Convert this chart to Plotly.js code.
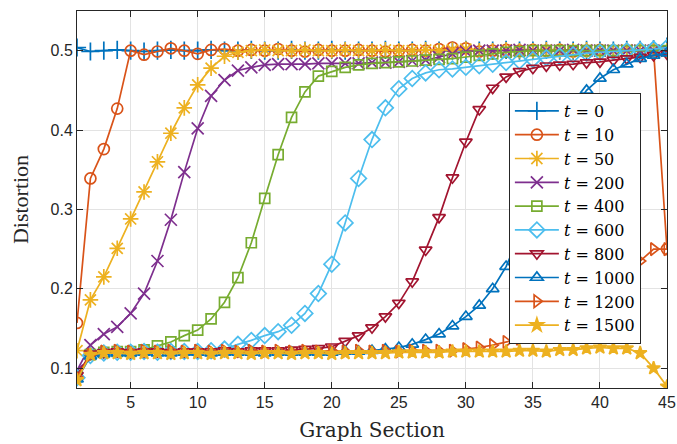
<!DOCTYPE html>
<html>
<head>
<meta charset="utf-8">
<script src="https://cdn.plot.ly/plotly-3.0.1.min.js"></script>
<style>html,body{margin:0;padding:0;background:#fff;}#chart{width:677px;height:444px;}</style>
</head>
<body>
<div id="chart"></div>
<script>
// Graph sections 1..45
const sections = [1,2,3,4,5,6,7,8,9,10,11,12,13,14,15,16,17,18,19,20,21,22,23,24,25,26,27,28,29,30,31,32,33,34,35,36,37,38,39,40,41,42,43,44,45];

const labels = ["t = 0","t = 10","t = 50","t = 200","t = 400","t = 600","t = 800","t = 1000","t = 1200","t = 1500"];

const t0 = [0.504,0.499,0.500,0.501,0.500,0.499,0.500,0.501,0.500,0.500,0.501,0.500,0.500,0.501,0.500,0.500,0.501,0.500,0.500,0.501,0.500,0.500,0.500,0.501,0.500,0.500,0.501,0.500,0.500,0.501,0.500,0.500,0.501,0.500,0.500,0.501,0.500,0.500,0.501,0.500,0.500,0.501,0.501,0.502,0.505];
const t10 = [0.157,0.339,0.376,0.427,0.500,0.495,0.499,0.503,0.500,0.496,0.501,0.502,0.500,0.501,0.500,0.502,0.500,0.499,0.501,0.500,0.500,0.501,0.500,0.499,0.500,0.501,0.500,0.502,0.504,0.503,0.499,0.500,0.501,0.500,0.501,0.500,0.501,0.499,0.500,0.501,0.500,0.499,0.500,0.500,0.250];
const t50 = [0.122,0.186,0.215,0.251,0.288,0.322,0.360,0.396,0.428,0.457,0.478,0.493,0.498,0.500,0.501,0.500,0.500,0.501,0.500,0.500,0.501,0.500,0.500,0.501,0.500,0.500,0.501,0.500,0.501,0.502,0.500,0.500,0.501,0.500,0.500,0.501,0.500,0.500,0.501,0.500,0.500,0.501,0.500,0.500,0.500];
const t200 = [0.097,0.129,0.143,0.152,0.169,0.194,0.235,0.287,0.347,0.402,0.443,0.463,0.475,0.479,0.482,0.483,0.483,0.483,0.484,0.484,0.484,0.484,0.485,0.485,0.486,0.487,0.488,0.492,0.496,0.499,0.500,0.500,0.500,0.501,0.500,0.500,0.500,0.501,0.500,0.500,0.500,0.500,0.500,0.500,0.500];
const t400 = [0.090,0.117,0.120,0.121,0.121,0.123,0.128,0.133,0.141,0.148,0.162,0.183,0.214,0.258,0.314,0.369,0.416,0.448,0.468,0.474,0.479,0.482,0.484,0.485,0.486,0.487,0.488,0.489,0.490,0.492,0.494,0.496,0.498,0.499,0.500,0.500,0.500,0.500,0.500,0.500,0.500,0.500,0.500,0.500,0.500];
const t600 = [0.088,0.116,0.119,0.120,0.120,0.121,0.120,0.121,0.121,0.121,0.122,0.124,0.130,0.135,0.141,0.146,0.154,0.169,0.194,0.231,0.283,0.339,0.388,0.428,0.452,0.465,0.472,0.476,0.477,0.479,0.481,0.483,0.485,0.487,0.489,0.491,0.493,0.495,0.497,0.498,0.499,0.500,0.501,0.502,0.504];
const t800 = [0.091,0.118,0.120,0.121,0.120,0.121,0.121,0.120,0.121,0.121,0.121,0.122,0.121,0.122,0.122,0.122,0.123,0.124,0.125,0.127,0.134,0.141,0.151,0.165,0.182,0.209,0.249,0.290,0.340,0.385,0.426,0.453,0.467,0.474,0.478,0.481,0.482,0.483,0.485,0.486,0.488,0.490,0.492,0.494,0.496];
const t1000 = [0.086,0.115,0.118,0.119,0.119,0.120,0.119,0.119,0.120,0.120,0.119,0.120,0.120,0.120,0.119,0.120,0.120,0.120,0.120,0.120,0.121,0.121,0.122,0.124,0.126,0.130,0.136,0.143,0.153,0.165,0.179,0.200,0.228,0.268,0.313,0.360,0.398,0.426,0.450,0.465,0.476,0.483,0.490,0.494,0.497];
const t1200 = [0.089,0.117,0.121,0.122,0.121,0.122,0.121,0.122,0.121,0.122,0.121,0.122,0.121,0.122,0.121,0.122,0.121,0.122,0.121,0.122,0.121,0.122,0.121,0.122,0.121,0.122,0.122,0.122,0.122,0.124,0.126,0.129,0.133,0.137,0.144,0.152,0.160,0.170,0.180,0.192,0.205,0.220,0.235,0.250,0.250];
const t1500 = [0.085,0.117,0.119,0.119,0.118,0.119,0.119,0.118,0.119,0.119,0.118,0.119,0.119,0.118,0.119,0.119,0.118,0.119,0.119,0.118,0.119,0.119,0.119,0.119,0.120,0.120,0.120,0.120,0.121,0.121,0.121,0.121,0.121,0.122,0.122,0.121,0.123,0.123,0.125,0.126,0.125,0.125,0.119,0.100,0.077];

const seriesValues = [t0,t10,t50,t200,t400,t600,t800,t1000,t1200,t1500];
const colors = ["#0072BD","#D95319","#EDB120","#7E2F8E","#77AC30","#4DBEEE","#A2142F","#0072BD","#D95319","#EDB120"];
const symbols = ["cross-thin-open","circle-open","asterisk-open","x-thin-open","square-open","diamond-open","triangle-down-open","triangle-up-open","triangle-right-open","star"];
const sizes = [13,11,13,12,10,12,11,11,11,10];

const traces = seriesValues.map((vals,i)=>({
  x: sections,
  y: vals,
  type: 'scatter',
  mode: 'lines+markers',
  name: labels[i].replace(/^t/,'<i>t</i>'),
  line: {color: colors[i], width: 1.7},
  marker: {symbol: symbols[i], size: sizes[i], color: colors[i], line: {color: colors[i], width: 1.7}}
}));

const axisCommon = {
  showline: true, linecolor: '#262626', linewidth: 1, mirror: 'ticks',
  ticks: 'inside', ticklen: 6, tickcolor: '#262626', tickwidth: 1,
  showgrid: true, gridcolor: '#e3e3e3', gridwidth: 1, zeroline: false,
  tickfont: {family: 'Liberation Sans, Arial, sans-serif', size: 16, color: '#262626'}
};

const layout = {
  width: 677, height: 444,
  margin: {l: 77, r: 10, t: 11, b: 56},
  paper_bgcolor: '#ffffff', plot_bgcolor: '#ffffff',
  showlegend: true,
  xaxis: Object.assign({}, axisCommon, {
    range: [1, 45], tickvals: [5,10,15,20,25,30,35,40,45],
    title: {text: 'Graph Section', font: {family: 'DejaVu Serif, serif', size: 20, color: '#262626'}, standoff: 12}
  }),
  yaxis: Object.assign({}, axisCommon, {
    range: [0.075, 0.55], tickvals: [0.1,0.2,0.3,0.4,0.5],
    title: {text: 'Distortion', font: {family: 'Liberation Serif, Times New Roman, serif', size: 22, color: '#262626'}, standoff: 15}
  }),
  legend: {
    x: 0.732, y: 0.7825, xanchor: 'left', yanchor: 'top',
    bgcolor: '#ffffff', bordercolor: '#262626', borderwidth: 1,
    font: {family: 'DejaVu Serif, serif', size: 16, color: '#000000'},
    tracegroupgap: 0, itemwidth: 44
  }
};

Plotly.newPlot('chart', traces, layout, {displayModeBar: false, staticPlot: true});
</script>
</body>
</html>
